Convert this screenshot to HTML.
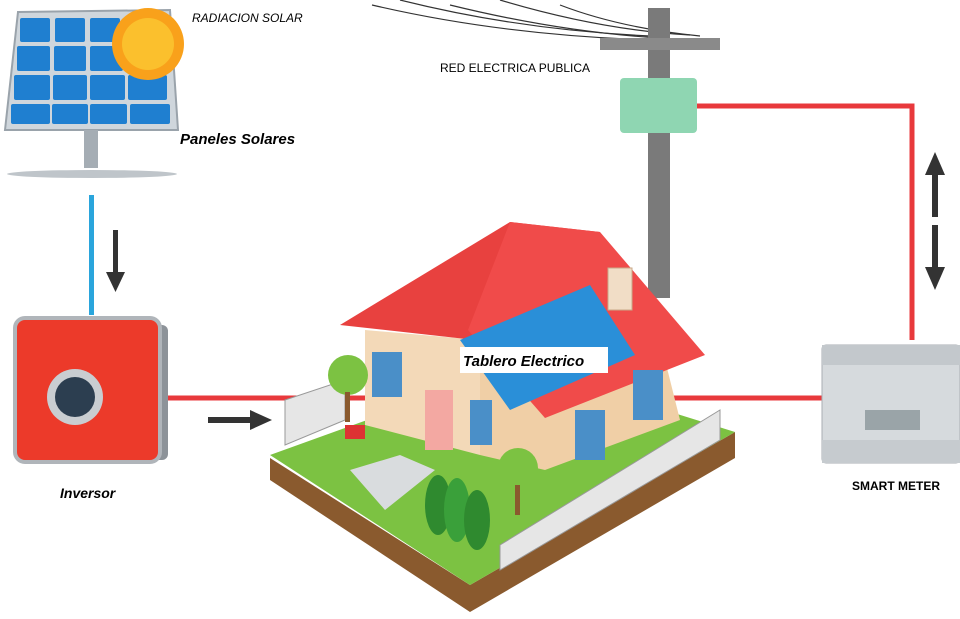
<!DOCTYPE html>
<html><head><meta charset="utf-8"><style>
html,body{margin:0;padding:0;background:#fff;width:960px;height:619px;overflow:hidden}
svg{display:block}
text{font-family:"Liberation Sans",sans-serif}
</style></head><body>
<svg width="960" height="619" viewBox="0 0 960 619" xmlns="http://www.w3.org/2000/svg">
<!-- wires -->
<g stroke="#333" stroke-width="1.2" fill="none">
<path d="M372 5 Q500 35 650 40"/><path d="M400 0 Q520 30 650 36"/><path d="M450 5 Q560 32 660 38"/><path d="M500 0 Q600 30 690 35"/><path d="M560 5 Q620 28 700 36"/>
</g>
<!-- pole -->
<rect x="648" y="8" width="22" height="290" fill="#7a7a7a"/>
<rect x="600" y="38" width="120" height="12" fill="#8a8a8a"/>
<rect x="620" y="78" width="77" height="55" rx="4" fill="#8fd6b2"/>
<!-- red lines -->
<g stroke="#e8393c" stroke-width="5" fill="none">
<path d="M697 106 H912 V340"/>
<path d="M165 398 H385"/>
<path d="M665 398 H822"/>
</g>
<!-- arrows -->
<g fill="#333">
<rect x="113" y="230" width="5" height="45"/><polygon points="106,272 125,272 115.5,292"/>
<rect x="208" y="417" width="45" height="6"/><polygon points="250,410 250,430 272,420"/>
<rect x="932" y="172" width="6" height="45"/><polygon points="925,175 945,175 935,152"/>
<rect x="932" y="225" width="6" height="45"/><polygon points="925,267 945,267 935,290"/>
</g>
<!-- blue line -->
<rect x="89" y="195" width="5" height="120" fill="#2aa5dc"/>
<!-- solar panel -->
<polygon points="18,12 170,10 178,130 5,130" fill="#cfd6dc" stroke="#9aa3ab" stroke-width="2"/>
<g fill="#1f7fd0">
<rect x="20" y="18" width="30" height="24" rx="2"/><rect x="55" y="18" width="30" height="24" rx="2"/><rect x="90" y="18" width="30" height="24" rx="2"/><rect x="125" y="18" width="38" height="24" rx="2"/>
<rect x="17" y="46" width="33" height="25" rx="2"/><rect x="54" y="46" width="32" height="25" rx="2"/><rect x="90" y="46" width="33" height="25" rx="2"/><rect x="127" y="46" width="38" height="25" rx="2"/>
<rect x="14" y="75" width="36" height="25" rx="2"/><rect x="53" y="75" width="34" height="25" rx="2"/><rect x="90" y="75" width="35" height="25" rx="2"/><rect x="128" y="75" width="39" height="25" rx="2"/>
<rect x="11" y="104" width="39" height="20" rx="2"/><rect x="52" y="104" width="36" height="20" rx="2"/><rect x="90" y="104" width="37" height="20" rx="2"/><rect x="130" y="104" width="40" height="20" rx="2"/>
</g>
<rect x="84" y="130" width="14" height="38" fill="#a5adb4"/>
<ellipse cx="92" cy="174" rx="85" ry="4" fill="#bfc5ca"/>
<circle cx="148" cy="44" r="36" fill="#f9a11b"/>
<circle cx="148" cy="44" r="26" fill="#fbc02d"/>
<text x="192" y="22" font-size="12" font-style="italic">RADIACION SOLAR</text>
<text x="180" y="144" font-size="15" font-weight="bold" font-style="italic">Paneles Solares</text>
<!-- inverter -->
<rect x="140" y="325" width="28" height="135" rx="6" fill="#8d9399"/>
<rect x="15" y="318" width="145" height="144" rx="10" fill="#ec3a2a" stroke="#b0b5ba" stroke-width="4"/>
<circle cx="75" cy="397" r="28" fill="#c9cdd1"/><circle cx="75" cy="397" r="20" fill="#2c3e50"/>
<text x="60" y="498" font-size="14" font-weight="bold" font-style="italic">Inversor</text>
<text x="440" y="72" font-size="12">RED ELECTRICA PUBLICA</text>
<!-- island -->
<polygon points="270,458 270,480 470,612 735,458 735,432 470,585" fill="#8a5a2e"/>
<polygon points="270,455 520,365 735,432 470,585" fill="#7cc242"/>
<polygon points="350,470 400,455 435,470 385,510" fill="#d9dcde"/>
<!-- house -->
<polygon points="365,330 480,340 480,455 365,425" fill="#f3d9b8"/>
<polygon points="480,340 660,340 680,420 545,470 480,455" fill="#f0cfa6"/>
<polygon points="340,325 510,222 600,232 475,340" fill="#e8413f"/>
<polygon points="510,222 600,232 705,355 545,418 468,330" fill="#f04b4a"/>
<polygon points="460,340 590,285 635,355 510,410" fill="#2a8fd8"/>
<rect x="608" y="268" width="24" height="42" fill="#f1ddc6" stroke="#c9a988"/>
<rect x="425" y="390" width="28" height="60" fill="#f3a8a2"/>
<rect x="575" y="410" width="30" height="50" fill="#4a8fc8"/>
<rect x="633" y="370" width="30" height="50" fill="#4a8fc8"/>
<rect x="372" y="352" width="30" height="45" fill="#4a8fc8"/>
<rect x="470" y="400" width="22" height="45" fill="#4a8fc8"/>
<!-- fence -->
<g fill="#e6e6e6" stroke="#999" stroke-width="1">
<polygon points="285,400 345,380 345,420 285,445"/>
<polygon points="500,545 720,410 720,440 500,570"/>
</g>
<circle cx="348" cy="375" r="20" fill="#7cc242"/><rect x="345" y="392" width="5" height="30" fill="#8a5a2e"/>
<circle cx="518" cy="468" r="20" fill="#7cc242"/><rect x="515" y="485" width="5" height="30" fill="#8a5a2e"/>
<ellipse cx="438" cy="505" rx="13" ry="30" fill="#2f8a2f"/>
<ellipse cx="457" cy="510" rx="13" ry="32" fill="#3aa03a"/>
<ellipse cx="477" cy="520" rx="13" ry="30" fill="#2f8a2f"/>
<rect x="345" y="425" width="20" height="14" fill="#d33"/>
<!-- label -->
<rect x="460" y="347" width="148" height="26" fill="#fff"/>
<text x="463" y="366" font-size="15" font-weight="bold" font-style="italic">Tablero Electrico</text>
<!-- smart meter -->
<rect x="822" y="345" width="138" height="118" rx="4" fill="#d6dadd" stroke="#a9aeb3"/>
<rect x="822" y="345" width="138" height="20" fill="#c3c8cc"/>
<rect x="865" y="410" width="55" height="20" fill="#9aa4a8"/>
<rect x="822" y="440" width="138" height="23" fill="#c6cbcf"/>
<text x="852" y="490" font-size="12" font-weight="bold">SMART METER</text>
</svg>
</body></html>
